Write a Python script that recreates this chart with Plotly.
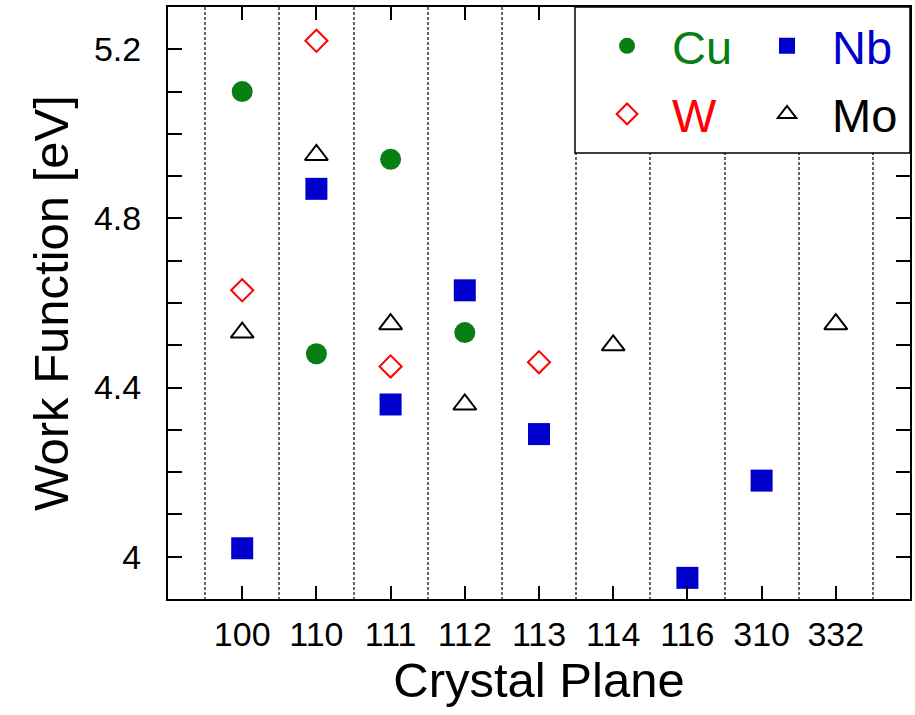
import plotly.graph_objects as go

# Crystal planes on the x axis (category index -> label)
planes = ["100", "110", "111", "112", "113", "114", "116", "310", "332"]

# Work function values [eV] per element, by plane
cu_planes = ["100", "110", "111", "112"]
cu_wf = [5.10, 4.48, 4.94, 4.53]

nb_planes = ["100", "110", "111", "112", "113", "116", "310"]
nb_wf = [4.02, 4.87, 4.36, 4.63, 4.29, 3.95, 4.18]

w_planes = ["100", "110", "111", "113"]
w_wf = [4.63, 5.22, 4.45, 4.46]

mo_planes = ["100", "110", "111", "112", "114", "332"]
mo_wf = [4.53, 4.95, 4.55, 4.36, 4.50, 4.55]

FONT = "Liberation Sans, Arial, sans-serif"
idx = {p: i for i, p in enumerate(planes)}


def pos(labels):
    return [idx[p] for p in labels]


fig = go.Figure()

fig.add_trace(go.Scatter(
    x=pos(cu_planes), y=cu_wf, mode="markers",
    name="<span style='color:#087f14'>Cu</span>",
    marker=dict(symbol="circle", size=21, color="#087f14"),
    legend="legend", legendgroup="cu",
))
fig.add_trace(go.Scatter(
    x=pos(w_planes), y=w_wf, mode="markers",
    name="<span style='color:#ff0000'>W</span>",
    marker=dict(symbol="diamond-open", size=17, color="#ff0000",
                line=dict(width=2, color="#ff0000")),
    legend="legend", legendgroup="w",
))
fig.add_trace(go.Scatter(
    x=pos(nb_planes), y=nb_wf, mode="markers",
    name="<span style='color:#0000cc'>Nb</span>",
    marker=dict(symbol="square", size=22, color="#0000cc"),
    legend="legend2", legendgroup="nb",
))
fig.add_trace(go.Scatter(
    x=pos(mo_planes), y=mo_wf, mode="markers",
    name="<span style='color:#000000'>Mo</span>",
    marker=dict(symbol="triangle-up-open", size=20, color="#000000",
                line=dict(width=2, color="#000000")),
    legend="legend2", legendgroup="mo",
))

# Legend frame
fig.add_shape(type="rect", xref="paper", yref="paper",
              x0=0.5485, x1=1.0, y0=0.7534, y1=1.0,
              line=dict(color="black", width=1.5), fillcolor="white",
              layer="above")

legend_common = dict(
    font=dict(family=FONT, size=47, color="black"),
    bgcolor="rgba(0,0,0,0)", borderwidth=0,
    itemwidth=80, tracegroupgap=4,
    yanchor="top", xanchor="left", y=0.997,
)

fig.update_layout(
    width=915, height=715,
    margin=dict(l=168, r=5, t=7, b=116),
    paper_bgcolor="white", plot_bgcolor="white",
    font=dict(family=FONT, color="black"),
    showlegend=True,
    legend=dict(x=0.558, **legend_common),
    legend2=dict(x=0.7736, **legend_common),
    xaxis=dict(
        range=[-1, 9], automargin=False,
        tickmode="array", tickvals=list(range(len(planes))), ticktext=planes,
        ticks="inside", ticklen=13, tickwidth=2, tickcolor="black",
        showline=True, linecolor="black", linewidth=2, mirror="ticks",
        showgrid=False, zeroline=False,
        tickfont=dict(family=FONT, size=34, color="black"),
        ticklabelstandoff=4,
        title=dict(text="Crystal Plane", font=dict(family=FONT, size=49, color="black"),
                   standoff=10),
        minor=dict(tick0=0.5, dtick=1, showgrid=True, griddash="3px,2px",
                   gridcolor="#666666", gridwidth=1.5, ticks=""),
    ),
    yaxis=dict(
        range=[3.9, 5.3], automargin=False,
        tick0=4.0, dtick=0.4, tickformat="~g",
        ticks="inside", ticklen=14, tickwidth=2, tickcolor="black",
        showline=True, linecolor="black", linewidth=2, mirror="ticks",
        showgrid=False, zeroline=False,
        tickfont=dict(family=FONT, size=34, color="black"),
        ticklabelstandoff=18,
        title=dict(text="Work Function [eV]", font=dict(family=FONT, size=49, color="black"),
                   standoff=10),
        minor=dict(tick0=4.0, dtick=0.1, ticks="inside", ticklen=14,
                   tickwidth=2, tickcolor="black", showgrid=False),
    ),
)

fig.write_html("out.html")
